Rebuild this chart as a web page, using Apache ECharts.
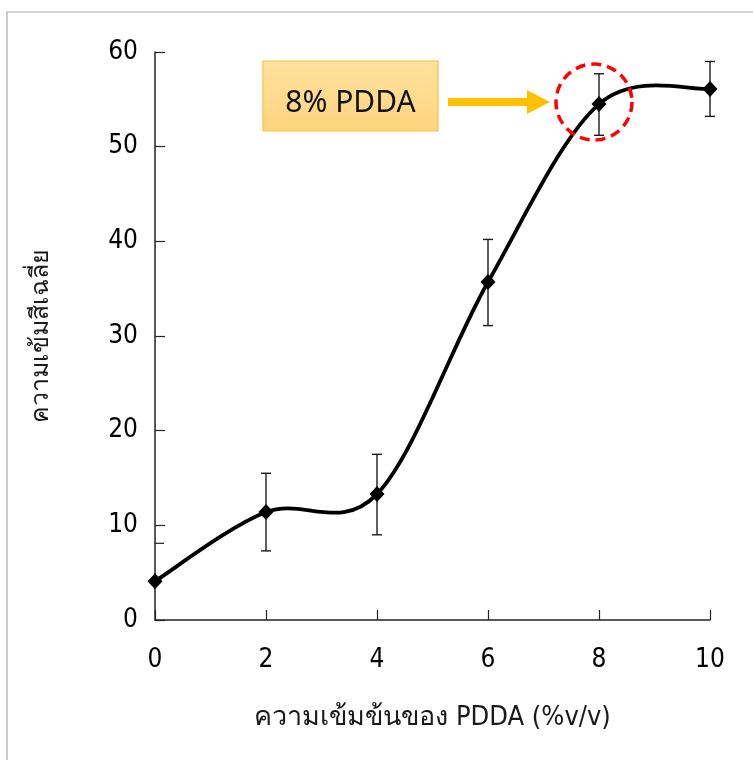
<!DOCTYPE html>
<html><head><meta charset="utf-8">
<script src="https://cdn.jsdelivr.net/npm/echarts@6/dist/echarts.min.js"></script>
<style>html,body{margin:0;padding:0;background:#fff}#c{width:753px;height:760px}</style>
</head><body><div id="c"></div>
<script>
const xValues = [0, 2, 4, 6, 8, 10];
const yValues = [4.1, 11.4, 13.3, 35.7, 54.5, 56.1];
const errLow  = [null, 7.3, 9.0, 31.1, 51.2, 53.2];
const errHigh = [null, 15.5, 17.5, 40.2, 57.7, 59.0];
const xTitle = 'ความเข้มข้นของ PDDA (%v/v)';
const yTitle = 'ความเข้มสีเฉลี่ย';
const noteText = '8% PDDA';
const highlightIndex = 4;
const extraTickValue = 8.1;

const FONT = '"Liberation Sans Narrow","DejaVu Sans Condensed","Noto Sans",sans-serif';
const chart = echarts.init(document.getElementById('c'), null, {renderer: 'canvas'});
const pointData = xValues.map((x, i) => [x, yValues[i]]);
const errData = xValues.map((x, i) => [x, errLow[i], errHigh[i]]).filter(d => d[1] != null);

// Excel-like (Catmull-Rom) smooth curve drawn through the axis scales
function renderCurve(params, api) {
  if (params.dataIndex !== 0) return null;
  const pts = pointData.map(d => api.coord(d));
  const n = pts.length;
  let path = 'M' + pts[0][0] + ' ' + pts[0][1];
  for (let i = 0; i < n - 1; i++) {
    const p0 = pts[Math.max(i - 1, 0)], p1 = pts[i], p2 = pts[i + 1], p3 = pts[Math.min(i + 2, n - 1)];
    const c1 = [p1[0] + (p2[0] - p0[0]) / 6, p1[1] + (p2[1] - p0[1]) / 6];
    const c2 = [p2[0] - (p3[0] - p1[0]) / 6, p2[1] - (p3[1] - p1[1]) / 6];
    path += ' C' + c1[0] + ' ' + c1[1] + ' ' + c2[0] + ' ' + c2[1] + ' ' + p2[0] + ' ' + p2[1];
  }
  return {type: 'path', shape: {pathData: path}, style: {fill: 'none', stroke: '#000', lineWidth: 3.8, lineJoin: 'round'}};
}

chart.setOption({
  animation: false,
  backgroundColor: '#fff',
  grid: {left: 155, right: 43, top: 52, bottom: 140, containLabel: false},
  xAxis: {
    type: 'value', min: 0, max: 10, interval: 2,
    name: xTitle, nameLocation: 'middle', nameGap: 84,
    nameTextStyle: {fontFamily: FONT, fontSize: 27, color: '#1a1a1a'},
    axisLine: {show: true, onZero: false, lineStyle: {color: '#222', width: 1.5}},
    axisTick: {show: true, inside: true, length: 10, lineStyle: {color: '#222', width: 1.2}},
    axisLabel: {fontFamily: FONT, fontSize: 26, color: '#000', margin: 27},
    splitLine: {show: false}
  },
  yAxis: {
    type: 'value', min: 0, max: 60, interval: 10,
    name: yTitle, nameLocation: 'middle', nameGap: 101, nameRotate: 90,
    nameTextStyle: {fontFamily: FONT, fontSize: 25, color: '#1a1a1a'},
    axisLine: {show: true, lineStyle: {color: '#222', width: 1.5}},
    axisTick: {show: true, inside: true, length: 10, lineStyle: {color: '#222', width: 1.2}},
    axisLabel: {fontFamily: FONT, fontSize: 26, color: '#000', margin: 17},
    splitLine: {show: false}
  },
  series: [
    {
      type: 'custom', z: 3,
      renderItem: function (params, api) {
        const x = api.value(0);
        const lo = api.coord([x, api.value(1)]);
        const hi = api.coord([x, api.value(2)]);
        const w = 5;
        const st = {stroke: '#1a1a1a', lineWidth: 1.4};
        return {type: 'group', children: [
          {type: 'line', shape: {x1: lo[0], y1: lo[1], x2: hi[0], y2: hi[1]}, style: st},
          {type: 'line', shape: {x1: lo[0] - w, y1: lo[1], x2: lo[0] + w, y2: lo[1]}, style: st},
          {type: 'line', shape: {x1: hi[0] - w, y1: hi[1], x2: hi[0] + w, y2: hi[1]}, style: st}
        ]};
      },
      data: errData
    },
    {type: 'custom', z: 4, renderItem: renderCurve, data: pointData},
    {
      type: 'scatter', z: 5, data: pointData,
      symbol: 'diamond', symbolSize: [15, 16],
      itemStyle: {color: '#000', opacity: 1}
    }
  ]
});

const p = chart.convertToPixel({gridIndex: 0}, [xValues[highlightIndex], yValues[highlightIndex]]);
const cx = p[0] - 5, cy = p[1] - 2;
const t = chart.convertToPixel({gridIndex: 0}, [0, extraTickValue]);
chart.setOption({
  graphic: [
    {type: 'rect', shape: {x: 7, y: 12, width: 800, height: 800}, style: {fill: 'none', stroke: '#aaa', lineWidth: 1.2}, z: 0, silent: true},
    {type: 'line', shape: {x1: t[0], y1: t[1], x2: t[0] + 9, y2: t[1]}, style: {stroke: '#222', lineWidth: 1.2}, z: 2},
    {type: 'circle', shape: {cx: cx, cy: cy, r: 38}, style: {fill: 'none', stroke: '#ff0000', lineWidth: 3.5, lineDash: [10, 6]}, z: 10},
    {type: 'polygon', shape: {points: [[448, cy - 4], [527, cy - 4], [527, cy - 12], [550, cy], [527, cy + 12], [527, cy + 4], [448, cy + 4]]}, style: {fill: '#FFC000'}, z: 10},
    {type: 'rect', shape: {x: 263, y: 61, width: 175, height: 70},
     style: {fill: new echarts.graphic.LinearGradient(0, 0, 0, 1, [{offset: 0, color: '#FFE29F'}, {offset: 1, color: '#FED47D'}]), stroke: '#F8C440', lineWidth: 1.2}, z: 10},
    {type: 'text', x: 350.5, y: 103, style: {text: noteText, fontFamily: '"Noto Sans","DejaVu Sans",sans-serif', fontSize: 30, fill: '#111', align: 'center', verticalAlign: 'middle'}, z: 11}
  ]
});
</script></body></html>
